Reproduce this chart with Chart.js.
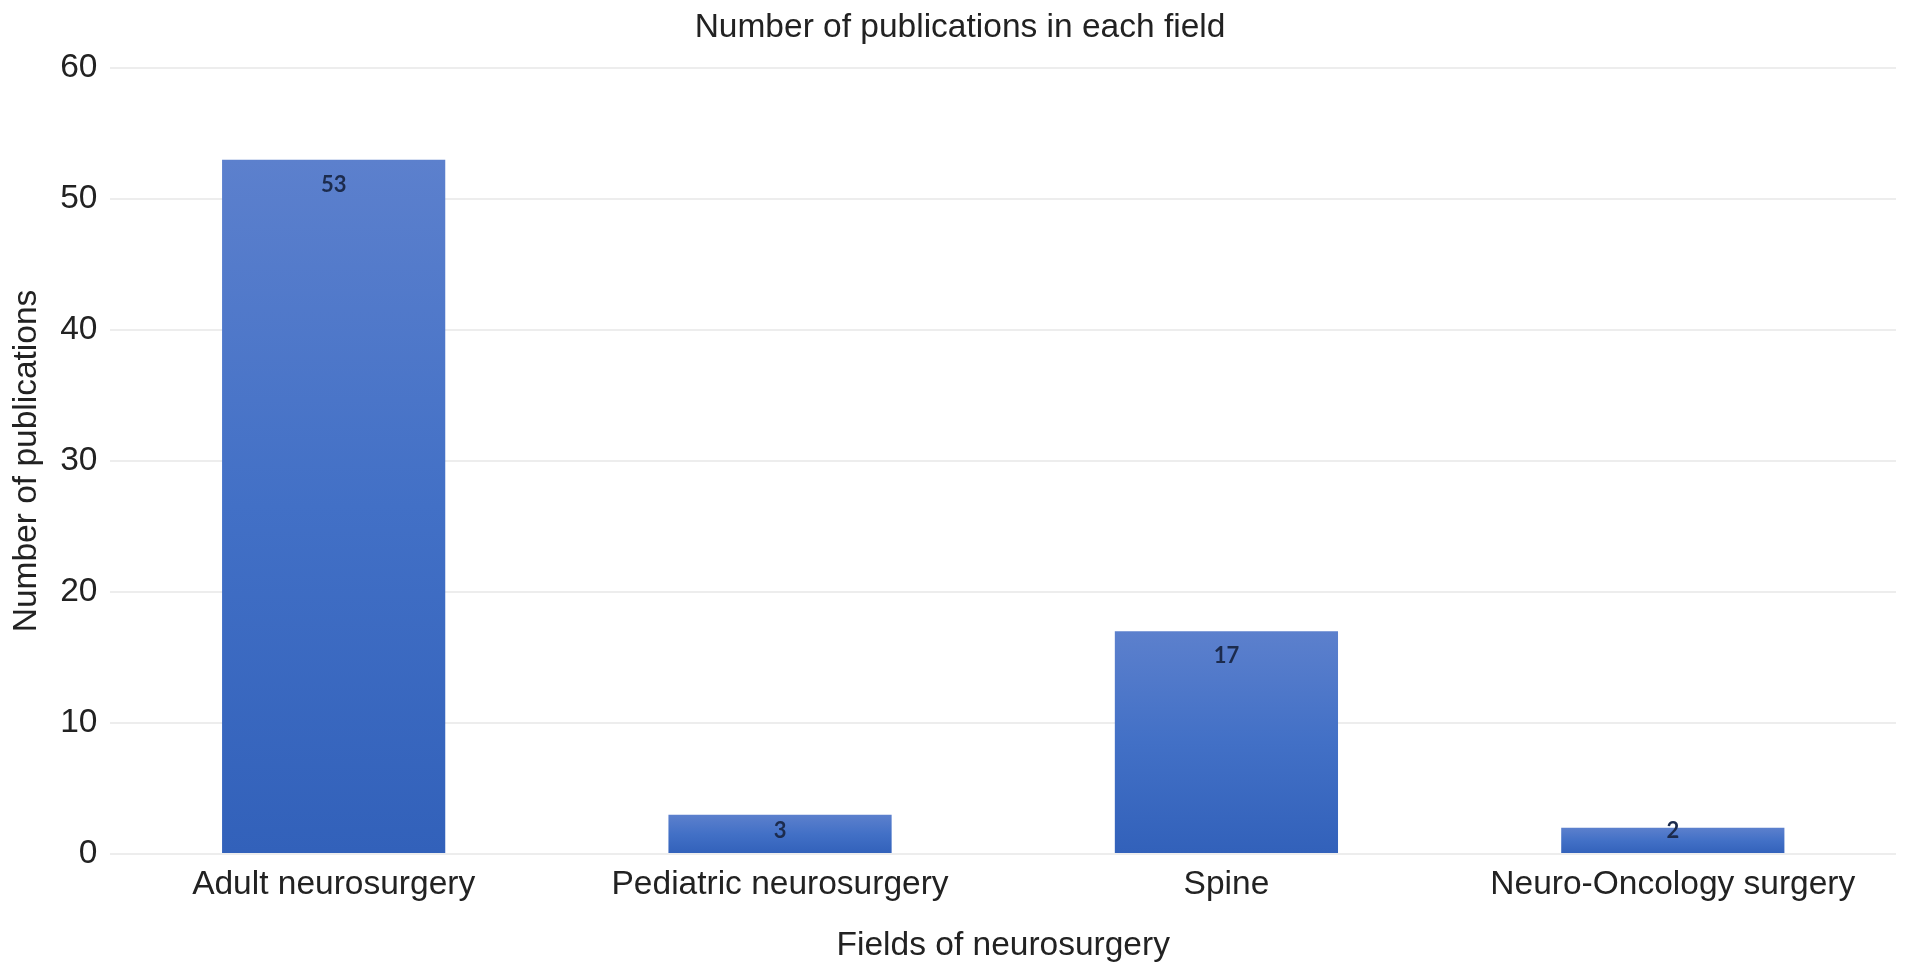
<!DOCTYPE html>
<html>
<head>
<meta charset="utf-8">
<script src="https://cdn.jsdelivr.net/npm/chart.js@4"></script>
<style>
  html, body { margin: 0; padding: 0; background: #ffffff; }
  #wrap { width: 1913px; height: 975px; }
</style>
</head>
<body>
<div id="wrap"><canvas id="pubChart"></canvas></div>
<script>
// --- Data ---
const fields = ['Adult neurosurgery', 'Pediatric neurosurgery', 'Spine', 'Neuro-Oncology surgery'];
const publications = [53, 3, 17, 2];
const yTicks = [0, 10, 20, 30, 40, 50, 60];

const FONT = "'Liberation Sans', Arial, Helvetica, sans-serif";
const TEXT = '#222222';
const SIZE = 33.5;

// per-bar vertical gradient, lighter at the top
function barGradient(context) {
    const chart = context.chart;
    if (!chart.chartArea) return '#4270c6';
    const y = chart.scales.y;
    const top = y.getPixelForValue(context.raw);
    const base = y.getPixelForValue(0);
    const g = chart.ctx.createLinearGradient(0, top, 0, base);
    g.addColorStop(0, '#5c80cd');
    g.addColorStop(0.5, '#4270c6');
    g.addColorStop(1, '#3261ba');
    return g;
}

// value labels inside the top of each bar
const valueLabels = {
    id: 'valueLabels',
    afterDatasetsDraw(chart) {
        const ctx = chart.ctx;
        const meta = chart.getDatasetMeta(0);
        ctx.save();
        ctx.font = "bold 22px Lato, 'Open Sans', sans-serif";
        ctx.fillStyle = '#1c2b4d';
        ctx.textAlign = 'center';
        ctx.textBaseline = 'middle';
        meta.data.forEach((bar, i) => {
            const y = Math.min(bar.y + 25, bar.base - 22);
            ctx.fillText(String(publications[i]), bar.x, y);
        });
        ctx.restore();
    }
};

// the original title sits a little right of the canvas centre
const titleNudge = {
    id: 'titleNudge',
    afterLayout(chart) {
        const t = chart.titleBlock;
        if (t) { t.left += 12; t.right += 12; }
    }
};

const ctx = document.getElementById('pubChart').getContext('2d');
new Chart(ctx, {
    type: 'bar',
    data: {
        labels: fields,
        datasets: [{
            label: 'Number of publications',
            data: publications,
            backgroundColor: barGradient,
            borderWidth: 0,
            barPercentage: 0.5,
            categoryPercentage: 1.0
        }]
    },
    options: {
        responsive: true,
        maintainAspectRatio: false,
        animation: false,
        layout: { padding: { left: 0, right: 17, top: 0, bottom: 0 } },
        plugins: {
            legend: { display: false },
            tooltip: { enabled: false },
            title: {
                display: true,
                text: 'Number of publications in each field',
                color: TEXT,
                font: { family: FONT, size: SIZE, weight: 'normal' },
                padding: { top: 7.6, bottom: 20.2 }
            }
        },
        scales: {
            x: {
                grid: { display: false, drawTicks: false },
                border: { display: false },
                ticks: {
                    color: TEXT,
                    font: { family: FONT, size: SIZE },
                    padding: 10.4,
                    maxRotation: 0
                },
                title: {
                    display: true,
                    text: 'Fields of neurosurgery',
                    color: TEXT,
                    font: { family: FONT, size: SIZE },
                    padding: { top: 10.4, bottom: 9.4 }
                }
            },
            y: {
                min: 0,
                max: 60,
                afterBuildTicks: (scale) => {
                    scale.ticks = yTicks.map(v => ({ value: v }));
                },
                grid: { color: '#ededed', lineWidth: 2, drawTicks: false },
                border: { display: false },
                ticks: {
                    color: TEXT,
                    font: { family: FONT, size: SIZE },
                    padding: 13
                },
                title: {
                    display: true,
                    text: 'Number of publications',
                    color: TEXT,
                    font: { family: FONT, size: SIZE },
                    padding: { top: 7, bottom: 0 }
                }
            }
        }
    },
    plugins: [valueLabels, titleNudge]
});
</script>
</body>
</html>
